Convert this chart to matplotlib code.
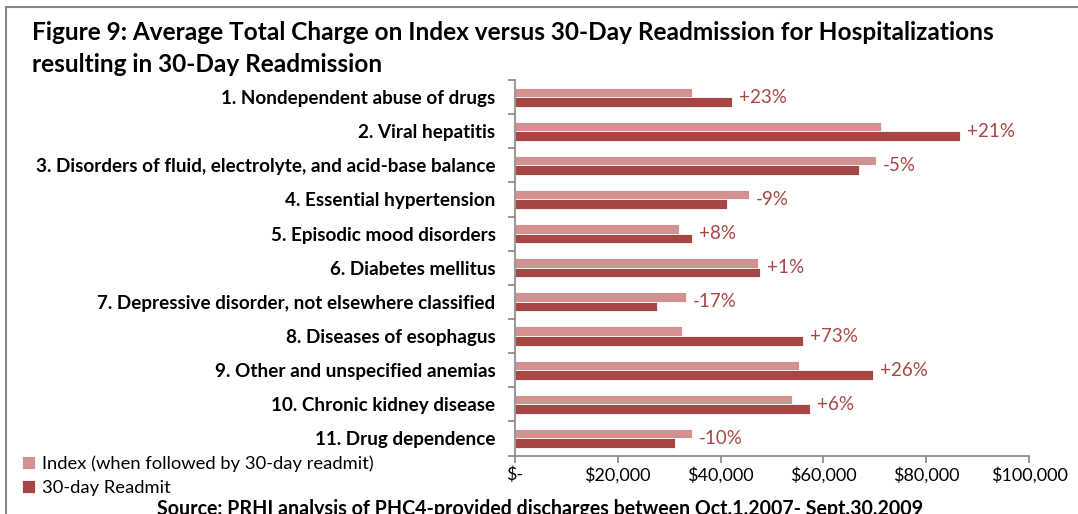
import numpy as np
import matplotlib.pyplot as plt
from matplotlib.lines import Line2D

plt.rcParams['font.family'] = ['Lato', 'DejaVu Sans']

categories = ["1. Nondependent abuse of drugs",
              "2. Viral hepatitis",
              "3. Disorders of fluid, electrolyte, and acid-base balance",
              "4. Essential hypertension",
              "5. Episodic mood disorders",
              "6. Diabetes mellitus",
              "7. Depressive disorder, not elsewhere classified",
              "8. Diseases of esophagus",
              "9. Other and unspecified anemias",
              "10. Chronic kidney disease",
              "11. Drug dependence"]
index_charge = [34400, 71200, 70300, 45500, 31900, 47300, 33200, 32400, 55300, 53900, 34500]
readmit_charge = [42200, 86500, 67000, 41200, 34400, 47700, 27700, 56100, 69600, 57400, 31200]
pct_labels = ["+23%", "+21%", "-5%", "-9%", "+8%", "+1%", "-17%", "+73%", "+26%", "+6%", "-10%"]
xticks = [0, 20000, 40000, 60000, 80000, 100000]
xtick_labels = ["$-", "$20,000", "$40,000", "$60,000", "$80,000", "$100,000"]

c_index = "#D39291"
c_readmit = "#A84644"
grey = "#868686"

fig = plt.figure(figsize=(10.78, 5.14), dpi=100)
ax = fig.add_axes([515/1078, 1-455.5/514, (1029-515)/1078, (455.5-80)/514])

y = np.arange(len(categories))
h = 0.28
ax.barh(y - h/2, index_charge, height=h, color=c_index, edgecolor="white", linewidth=0.6,
        label="Index (when followed by 30-day readmit)")
ax.barh(y + h/2, readmit_charge, height=h, color=c_readmit, edgecolor="white", linewidth=0.6,
        label="30-day Readmit")

for i in range(len(categories)):
    ax.annotate(pct_labels[i], (max(index_charge[i], readmit_charge[i]), y[i]),
                xytext=(5, 0), textcoords="offset points", va="center", ha="left",
                fontsize=13.5, color=c_readmit)

ax.set_xlim(0, 100000)
ax.set_ylim(len(categories) - 0.5, -0.5)
ax.set_xticks(xticks)
ax.set_xticklabels(xtick_labels, fontsize=13)
ax.set_yticks(np.arange(-0.5, len(categories)))
ax.set_yticklabels([])
ax.set_yticks(y, minor=True)
ax.set_yticklabels(categories, minor=True, fontsize=13.6, fontweight="bold")
ax.tick_params(axis="y", which="minor", length=0, pad=14)
ax.tick_params(axis="y", which="major", length=5, color=grey, width=1.2)
ax.tick_params(axis="x", length=5, color=grey, width=1.2, pad=3)
for s in ["top", "right"]:
    ax.spines[s].set_visible(False)
for s in ["left", "bottom"]:
    ax.spines[s].set_color(grey)
    ax.spines[s].set_linewidth(1.2)

fig.text(32/1078, 1-32/514, "Figure 9: Average Total Charge on Index versus 30-Day Readmission for Hospitalizations",
         fontsize=17.6, fontweight="bold", va="center", ha="left")
fig.text(32/1078, 1-65/514, "resulting in 30-Day Readmission",
         fontsize=17.6, fontweight="bold", va="center", ha="left")
fig.text(540/1078, 1-509/514, "Source: PRHI analysis of PHC4-provided discharges between Oct.1,2007- Sept.30,2009",
         fontsize=14.1, fontweight="bold", va="center", ha="center")

fig.legend(loc="upper left", bbox_to_anchor=(22/1078, 1-455/514), frameon=False,
           fontsize=13.2, handlelength=0.7, handleheight=0.7, handletextpad=0.4,
           labelspacing=0.45, borderaxespad=0, borderpad=0)

fig.add_artist(Line2D([6/1078, 6/1078], [0, 1-7/514], color=grey, lw=1.5))
fig.add_artist(Line2D([6/1078, 1], [1-7/514, 1-7/514], color=grey, lw=1.5))

fig.savefig("out.png", dpi=100)
